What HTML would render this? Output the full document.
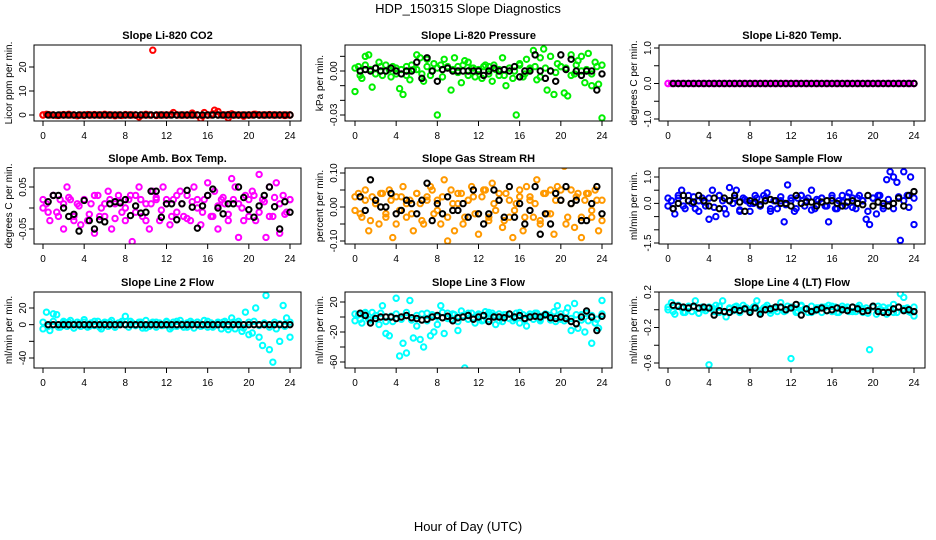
<!DOCTYPE html>
<html><head><meta charset="utf-8"><style>
html,body{margin:0;padding:0;background:#fff;}
svg{display:block;font-family:"Liberation Sans",sans-serif;}
</style></head><body>
<svg id="chart" width="936" height="540" viewBox="0 0 936 540">
<text x="468" y="13" font-size="13" text-anchor="middle">HDP_150315  Slope Diagnostics</text>
<text x="468" y="531" font-size="13" text-anchor="middle">Hour of Day (UTC)</text>
</svg>
<script>
const hourTicks = [0,4,8,12,16,20,24];
const titles = ["Slope Li-820 CO2","Slope Li-820 Pressure","Slope Li-820 Temp.","Slope Amb. Box Temp.","Slope Gas Stream RH","Slope Sample Flow","Slope Line 2 Flow","Slope Line 3 Flow","Slope Line 4 (LT) Flow"];
const yTitles = ["Licor ppm per min.","kPa per min.","degrees C per min.","degrees C per min.","percent per min.","ml/min per min.","ml/min per min.","ml/min per min.","ml/min per min."];
const seriesColors = ["#ff0000","#00ee00","#ff00ff","#ff00ff","#ff9900","#0000ff","#00ffff","#00ffff","#00ffff"];
const yTickVals = [[0,10,20],[-0.03,-0.02,-0.01,0,0.01],[-1,-0.5,0,0.5,1],[-0.05,0,0.05],[-0.1,-0.05,0,0.05,0.1],[-1.5,-1,-0.5,0,0.5,1],[-40,-20,0,20],[-60,-40,-20,0,20],[-0.6,-0.4,-0.2,0,0.2]];
const yTickLabels = [["0","10","20"],["-0.03","","","0.00",""],["-1.0","","0.0","","1.0"],["-0.05","","0.05"],["-0.10","","0.00","","0.10"],["-1.5","","","0.0","","1.0"],["-40","","0","20"],["-60","","-20","","20"],["-0.6","","-0.2","","0.2"]];

const colCO2 = [0,0.3,0,0,-0.2,0,0.2,0,0,0,-0.3,0,0,0.2,0,0,0,0,0.3,0,0,0,0,-0.2,0,0,0,0,-0.8,0,0,0,27,0,0,0,0,0,1,0,0,0,0,0,0,0,-1.5,1,0,0,2,1.5,0,0,-1.2,0.5,0,0,0,0,0,0,0.3,0,0,0,0,0,0,0,0,0,0];
const blkCO2 = [0,0,0,0,0,0,0,0,0,0,0,0,0,0,0,0,0,0,0,0,0,0,0,0,0,0,0,0,0,0,0,0,0,0,0,0,0,0,0,0,0,0,0,0,0,0,0,0];
const colPres = [-0.014,0.003,-0.005,0.010,0.011,-0.011,0.002,0.006,-0.003,0.004,0.001,0.003,-0.002,-0.012,-0.016,0.003,-0.006,0.001,0.011,0.009,-0.007,0.008,-0.003,0.005,-0.030,0.004,0.008,0.002,-0.013,0.009,0.003,-0.008,0.007,0.006,0.002,-0.004,0.001,-0.005,0.004,0.003,-0.007,0.001,-0.003,0.009,-0.010,0.002,-0.005,-0.030,0.005,-0.004,0.008,0.002,0.014,-0.006,0.009,0.015,-0.013,0.010,-0.016,0.005,0.003,-0.015,-0.017,0.011,-0.002,0.007,0.010,-0.008,0.012,-0.010,0.006,-0.009,-0.032];
const blkPres = [0,0.001,0,0.002,0,0,0.002,0,-0.002,0,0,0.006,-0.005,0.009,0,-0.007,0.001,0.002,0,0,0,0,0,0,-0.003,0,0.002,0,0.001,0,0.003,-0.004,0,0,0.011,0,-0.005,0,-0.007,0.011,0.001,0.008,0,-0.003,0,0,-0.013,-0.002];
const colTemp = [0,0,0,0,0,0,0,0,0,0,0,0,0,0,0,0,0,0,0,0,0,0,0,0,0,0,0,0,0,0,0,0,0,0,0,0,0,0,0,0,0,0,0,0,0,0,0,0,0,0,0,0,0,0,0,0,0,0,0,0,0,0,0,0,0,0,0,0,0,0,0,0,0];
const blkTemp = [0,0,0,0,0,0,0,0,0,0,0,0,0,0,0,0,0,0,0,0,0,0,0,0,0,0,0,0,0,0,0,0,0,0,0,0,0,0,0,0,0,0,0,0,0,0,0,0];
const colBox = [0,0.01,-0.03,0.03,-0.01,0.02,-0.05,0.05,0.02,-0.02,0.01,-0.04,0.02,-0.03,0.01,-0.06,0.03,0,-0.02,0.04,-0.05,0.01,0.03,-0.01,-0.03,0.02,-0.08,0.03,0.05,-0.02,0.01,-0.05,0.04,0.02,-0.03,0.05,0.01,-0.04,0.02,-0.01,0.04,-0.02,0.03,-0.03,0.05,0,-0.04,0.02,0.06,-0.02,0.04,-0.05,0.02,0.01,-0.03,0.07,0.05,-0.07,0,0.03,-0.02,0.04,-0.03,0.08,0.02,-0.07,0.05,-0.02,0.06,-0.06,0.03,-0.01,0.02];
const blkBox = [0.015,0.03,0.03,0,-0.02,-0.015,-0.055,0.018,-0.03,-0.05,-0.028,-0.033,0.01,0.015,0.012,0.02,-0.018,0.005,-0.012,-0.01,0.04,0.04,-0.022,0.01,0.01,-0.028,0.01,0.042,0.002,-0.048,0.005,0.03,0.045,0,-0.014,0.01,0.01,0.05,0.025,-0.004,-0.022,0.005,0.03,0.05,0.003,-0.05,0.015,-0.01];
const colRH = [-0.01,0.04,-0.03,0.02,-0.07,0.03,0.01,-0.05,0.04,-0.02,0.05,-0.09,0.03,-0.01,0.06,-0.03,0.02,-0.07,0.04,0.01,-0.05,0.03,0.06,-0.02,0.02,-0.05,0.08,-0.1,0.05,-0.07,0.01,0.04,-0.03,0.02,0.06,-0.02,-0.08,0.03,0.05,-0.04,0.07,-0.01,0.02,-0.06,0.04,-0.03,-0.09,0.01,0.03,-0.07,0.06,0.02,-0.03,0.08,-0.05,0.04,-0.02,0.05,-0.08,0.06,0.02,0.12,-0.03,0.05,-0.06,0.04,-0.09,0.02,0.04,-0.03,0.05,-0.07,0.02];
const blkRH = [0.03,-0.01,0.08,0.02,0,0,0.04,-0.02,-0.01,0.02,0.01,-0.02,0.02,0.07,-0.04,0.01,-0.02,0.03,-0.01,-0.01,0.01,-0.03,0.05,-0.02,-0.05,-0.02,0.05,0.02,-0.03,0.06,-0.03,0.01,-0.05,-0.01,0.06,-0.08,-0.02,-0.05,0.04,0.02,0.06,0.01,0.02,-0.04,-0.04,0.01,0.06,-0.02];
const colSamp = [-0.1,0.1,-0.4,0.2,0.5,-0.2,0.3,0,-0.2,0.1,0.2,-0.1,-0.6,0.5,-0.5,0.3,0.1,-0.4,0.6,0,0.5,-0.3,0.2,0.1,-0.3,0,0.2,-0.1,0.3,0.4,-0.2,0.1,-0.2,0.1,-0.7,0.7,0.1,-0.3,0.2,0.3,-0.1,0.2,0.5,-0.2,0.1,0.2,-0.1,-0.7,0.2,-0.2,0.1,0.3,-0.1,0.4,0.2,-0.2,0.3,0.1,-0.6,-0.8,0.2,-0.4,0.3,-0.2,0.9,1.2,1.0,0.8,-1.4,1.2,0.3,1.0,-0.8];
const blkSamp = [-0.2,0,0.3,0.1,0.05,0.3,0.1,-0.1,0.2,-0.2,0.2,0.1,0.3,0.05,-0.3,0.1,0.05,-0.05,0.1,0.15,0.1,0,0,-0.1,0.3,0,0.05,0.05,-0.1,0.05,0.1,0.1,0,-0.1,0.05,0.1,0,-0.05,0.3,-0.1,0.05,0,-0.1,0,0.2,-0.1,0.3,0.45];
const colL2 = [-5,15,-7,13,12,-3,4,-2,5,-4,3,-2,6,-3,2,-1,4,-5,3,-2,5,-3,2,4,10,-3,2,-1,3,-4,5,-2,3,-3,2,-1,4,-5,3,-2,5,-3,2,4,-4,3,-2,5,-3,2,-1,3,-5,4,-6,8,-5,4,-8,15,-12,-10,20,-15,-25,35,-30,-45,-5,-20,23,8,-15];
const blkL2 = [0,0,0,0,0,0,0,0,0,0,0,0,0,0,0,0,0,0,0,0,0,0,0,0,0,0,0,0,0,0,0,0,0,0,0,0,0,0,0,0,0,0,0,0,0,0,0,0];
const colL3 = [-5,3,-8,5,-3,6,-2,-10,15,-22,-25,-6,25,-52,-35,-48,22,-28,-12,-30,-40,5,-25,-20,-10,15,-22,5,-3,3,-18,8,-68,-3,5,-8,3,-5,7,-3,5,-10,4,-6,3,-2,-5,5,-8,3,-12,4,-3,5,-5,2,3,-4,7,15,-3,-5,12,-18,18,-15,3,-20,-5,-35,-8,-15,22];
const blkL3 = [5,2,-8,-2,0,0,0,-2,0,2,-1,-2,-4,-3,0,2,-1,1,-5,-1,0,2,-3,0,2,-6,0,0,-1,4,0,2,-2,0,1,0,3,-1,-2,0,-2,-6,-9,0,8,0,-18,1];
const colL4 = [0,0.08,-0.05,0.05,0.02,-0.03,0.04,-0.02,0.1,-0.04,0.03,-0.01,-0.62,0.02,0.05,-0.03,0.1,-0.08,0.02,-0.01,0.04,-0.03,0.05,0.02,-0.02,0.03,0.1,-0.03,0.02,0.05,-0.01,0.02,-0.02,0.08,-0.02,0.04,-0.55,0.02,-0.02,0.05,0.01,-0.03,0.04,-0.01,0.02,-0.03,0.03,0.05,-0.02,0.03,-0.03,0.04,0.01,-0.02,0.03,-0.02,0.05,-0.03,0.02,-0.45,0.04,-0.05,0.01,0.03,-0.05,0.02,0.06,-0.03,0.18,0.14,0.02,-0.03,-0.07];
const blkL4 = [0.05,0.04,0.03,0.02,0.04,0.02,0.03,0.02,-0.06,-0.01,-0.02,-0.03,0,-0.01,0.01,-0.03,0.02,-0.05,0,0.01,0.03,0.03,0,0.02,0.06,-0.06,0.01,-0.02,0,0.02,-0.01,0,0.02,0,-0.01,0.03,0.01,-0.02,-0.01,0.04,-0.02,-0.03,-0.03,0.01,0.03,-0.01,0,-0.02];

// secondary (dense band) colored samples
const bandCO2 = [0,0.2,0,-0.2,0,0.3,0,0,-0.2,0,0.2,0,0,0,-0.3,0,0.2,0,0,0,0.3,0,-0.2,0,0,0.2,0,0,0,0.8,0,-0.4,0,0.5,0,0,0.2,0,0,-0.5,0,0.3,0,0,0.2,0,0,-0.2,0];
const bandPres = [0.002,-0.003,0.004,0.001,-0.002,0.003,0,-0.004,0.002,0.001,-0.003,0.004,0.001,-0.002,0.003,0,0.002,-0.004,0.003,0.001,-0.001,0.004,-0.003,0.002,0,0.003,-0.002,0.004,0.001,-0.003,0.002,0,0.004,-0.002,0.001,0.003,-0.004,0.002,0,-0.001,0.003,0.002,-0.003,0.004,0,0.001,-0.002,0.003,0.004];
const bandTemp = [0,0,0,0,0,0,0,0,0,0,0,0,0,0,0,0,0,0,0,0,0,0,0,0,0,0,0,0,0,0,0,0,0,0,0,0,0,0,0,0,0,0,0,0,0,0,0,0,0];
const bandBox = [0.02,-0.01,0.03,-0.02,0.01,0.025,-0.03,0.005,0.02,-0.015,0.03,-0.02,0.01,0.02,-0.025,0.015,0,0.03,-0.01,0.02,-0.03,0.01,0.025,-0.005,0.02,-0.02,0.03,0.01,-0.025,0.015,0.02,-0.01,0.03,-0.02,0.005,0.025,-0.015,0.02,0.01,-0.03,0.02,0.03,-0.01,0.015,-0.02,0.025,0.01,-0.015,0.02];
const bandRH = [0.03,-0.02,0.05,-0.04,0.01,0.04,-0.03,0.02,-0.05,0.03,0.01,-0.02,0.04,-0.04,0.02,0.05,-0.01,0.03,-0.03,0.01,0.04,-0.05,0.02,0.03,-0.02,0.05,-0.03,0.01,0.04,-0.04,0.02,-0.01,0.05,-0.03,0.03,0.01,-0.04,0.04,-0.02,0.02,0.05,-0.05,0.01,0.03,-0.03,0.04,-0.01,0.02,-0.04];
const bandSamp = [0.2,-0.2,0.3,-0.1,0.1,0.25,-0.3,0.05,0.2,-0.15,0.3,-0.2,0.1,0.2,-0.25,0.15,0,0.3,-0.1,0.2,-0.3,0.1,0.25,-0.05,0.2,-0.2,0.3,0.1,-0.25,0.15,0.2,-0.1,0.3,-0.2,0.05,0.25,-0.15,0.2,0.1,-0.3,0.2,0.3,-0.1,0.15,-0.2,0.25,0.1,-0.15,0.2];
const bandL2 = [3,-2,4,-3,2,3,-4,1,3,-2,4,-3,1,3,-3,2,0,4,-1,3,-4,1,3,-1,3,-3,4,1,-3,2,3,-1,4,-3,1,3,-2,3,1,-4,3,4,-1,2,-3,3,1,-2,3];
const bandL3 = [4,-3,6,-4,2,5,-6,1,4,-3,6,-4,2,4,-5,3,0,6,-2,4,-6,2,5,-1,4,-4,6,2,-5,3,4,-2,6,-4,1,5,-3,4,2,-6,4,6,-2,3,-4,5,2,-3,4];
const bandL4 = [0.03,-0.02,0.04,-0.03,0.02,0.03,-0.04,0.01,0.03,-0.02,0.04,-0.03,0.01,0.03,-0.03,0.02,0,0.04,-0.01,0.03,-0.04,0.01,0.03,-0.01,0.03,-0.03,0.04,0.01,-0.03,0.02,0.03,-0.01,0.04,-0.03,0.01,0.03,-0.02,0.03,0.01,-0.04,0.03,0.04,-0.01,0.02,-0.03,0.03,0.01,-0.02,0.03];

const colorSeries = [colCO2,colPres,colTemp,colBox,colRH,colSamp,colL2,colL3,colL4];
const bandSeries = [bandCO2,bandPres,bandTemp,bandBox,bandRH,bandSamp,bandL2,bandL3,bandL4];
const blackSeries = [blkCO2,blkPres,blkTemp,blkBox,blkRH,blkSamp,blkL2,blkL3,blkL4];

// layout (pixel geometry, not data)
const colGeom = [{l:34,r:301,x0:43,x24:290},{l:345,r:612,x0:355,x24:602},{l:659,r:925,x0:668,x24:914}];
const rowGeom = [{t:45,b:121},{t:168,b:244},{t:292,b:368}];
const yAnchors = [[0,115,20,67],[0,71,-0.03,115],[1,48,-1,119],[0.05,187,-0.05,229],[0.1,173,-0.1,241],[1,177,-1.5,243],[20,308,-40,358],[20,302,-60,362],[0.2,292,-0.6,363]];

const NS = "http://www.w3.org/2000/svg";
const svg = document.getElementById('chart');
function mk(tag, attrs, parent){
  const e = document.createElementNS(NS, tag);
  for (const k in attrs) e.setAttribute(k, attrs[k]);
  (parent||svg).appendChild(e);
  return e;
}
const defs = mk('defs', {});

for (let p = 0; p < 9; p++) {
  const cg = colGeom[p % 3], rg = rowGeom[Math.floor(p / 3)];
  const a = yAnchors[p];
  const xS = h => cg.x0 + (cg.x24 - cg.x0) * h / 24;
  const yS = v => a[1] + (v - a[0]) * (a[3] - a[1]) / (a[2] - a[0]);

  const g = mk('g', {});
  
  

  const cp = mk('clipPath', {id: 'clip' + p}, defs);
  mk('rect', {x: cg.l, y: rg.t, width: cg.r - cg.l, height: rg.b - rg.t}, cp);

  const title = mk('text', {x: (cg.l + cg.r) / 2, y: rg.t - 6, 'font-size': 11, 'font-weight': 'bold', 'text-anchor': 'middle'}, g);
  title.textContent = titles[p];
  
  

  const yl = mk('text', {transform: `translate(${cg.l - 22},${(rg.t + rg.b) / 2}) rotate(-90)`, 'font-size': 10, 'text-anchor': 'middle'}, g);
  yl.textContent = yTitles[p];
  
  

  const pts = mk('g', {'clip-path': `url(#clip${p})`, fill: 'none', 'stroke-width': 2}, g);
  
  
  const bd = bandSeries[p];
  bd.forEach((v, i) => {
    const c = mk('circle', {cx: xS(i * 24 / (bd.length - 1)), cy: yS(v), r: 2.7, stroke: seriesColors[p]}, pts);
    
    
  });
  const cs = colorSeries[p];
  cs.forEach((v, i) => {
    const c = mk('circle', {cx: xS(i * 24 / (cs.length - 1)), cy: yS(v), r: 2.7, stroke: seriesColors[p]}, pts);
    
    
  });
  const bs = blackSeries[p];
  bs.forEach((v, i) => {
    const c = mk('circle', {cx: xS((i + 1) * 0.5), cy: yS(v), r: 2.7, stroke: '#000'}, pts);
    
    
  });

  const box = mk('rect', {x: cg.l, y: rg.t, width: cg.r - cg.l, height: rg.b - rg.t, fill: 'none', stroke: '#000', 'stroke-width': 1}, g);
  
  

  const xa = mk('g', {}, g);
  
  
  mk('line', {x1: xS(0), x2: xS(24), y1: rg.b, y2: rg.b, stroke: '#000'}, xa);
  hourTicks.forEach(h => {
    mk('line', {x1: xS(h), x2: xS(h), y1: rg.b, y2: rg.b + 5, stroke: '#000'}, xa);
    const t = mk('text', {x: xS(h), y: rg.b + 18, 'font-size': 10, 'text-anchor': 'middle'}, xa);
    t.textContent = h;
    
    
  });

  const ya = mk('g', {}, g);
  
  
  const tv = yTickVals[p];
  mk('line', {x1: cg.l, x2: cg.l, y1: yS(tv[0]), y2: yS(tv[tv.length - 1]), stroke: '#000'}, ya);
  tv.forEach((v, i) => {
    const yy = yS(v);
    mk('line', {x1: cg.l - 5, x2: cg.l, y1: yy, y2: yy, stroke: '#000'}, ya);
    if (yTickLabels[p][i]) {
      const t = mk('text', {transform: `translate(${cg.l - 8},${yy}) rotate(-90)`, 'font-size': 10, 'text-anchor': 'middle'}, ya);
      t.textContent = yTickLabels[p][i];
      
      
    }
  });
}
</script>
</body></html>
